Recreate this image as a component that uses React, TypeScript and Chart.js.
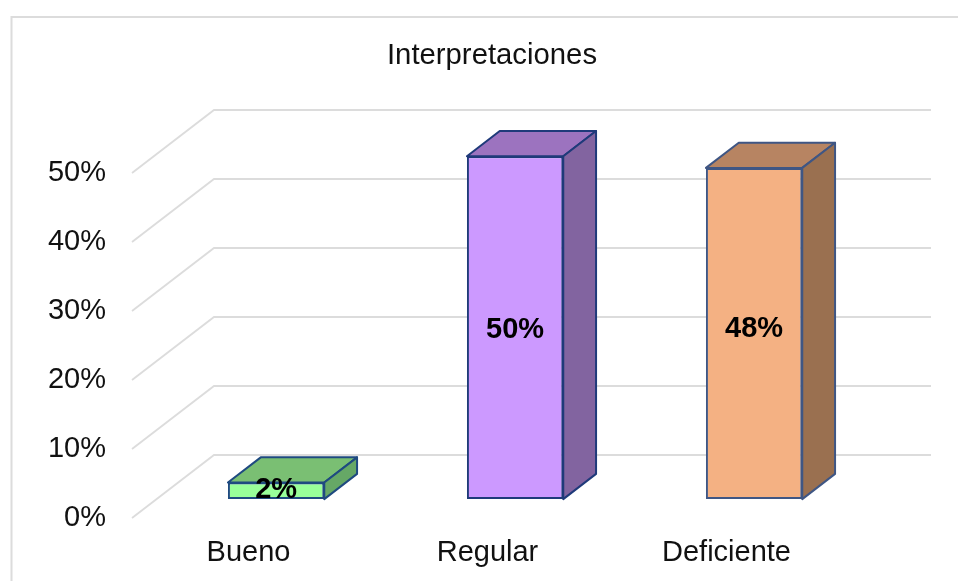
import React, { useEffect, useRef } from "react";
import { Chart, registerables } from "chart.js";

Chart.register(...registerables);

const titleText = "Interpretaciones";
const categories = ["Bueno", "Regular", "Deficiente"];
const values = [2.4, 49.7, 48];
const dataLabels = ["2%", "50%", "48%"];
const frontColors = ["#99ff99", "#cc99ff", "#f4b183"];
const topColors = ["#7abf73", "#9c73bf", "#b78462"];
const sideColors = ["#66a866", "#8264a0", "#9a7050"];
const borderColors = ["#1f4a80", "#1f3a7a", "#3f5684"];
const yTicks = [0, 10, 20, 30, 40, 50];

const FONT = '"Liberation Sans", Arial, sans-serif';
const DEPTH_X = 82;
const DEPTH_Y = 63;
const BAR_SHIFT = 0.3;
const BAR_DEPTH = 0.4;
const labelNudge = [-1, 2, -5];

const threeD = {
  id: "threeD",
  beforeDatasetsDraw(chart: any) {
    const { ctx, chartArea, scales } = chart;
    const y = scales.y;
    ctx.save();
    ctx.strokeStyle = "#dcdcdc";
    ctx.lineWidth = 1.8;
    yTicks.forEach((t) => {
      const py = y.getPixelForValue(t);
      ctx.beginPath();
      ctx.moveTo(chartArea.left, py);
      ctx.lineTo(chartArea.left + DEPTH_X, py - DEPTH_Y);
      ctx.lineTo(chartArea.right + DEPTH_X, py - DEPTH_Y);
      ctx.stroke();
    });
    ctx.restore();
  },
  beforeDatasetDraw(chart: any) {
    const { ctx } = chart;
    ctx.save();
    ctx.translate(DEPTH_X * BAR_SHIFT, -DEPTH_Y * BAR_SHIFT);
  },
  afterDatasetDraw(chart: any) {
    const { ctx } = chart;
    ctx.restore();
    const meta = chart.getDatasetMeta(0);
    const sx = DEPTH_X * BAR_SHIFT;
    const sy = -DEPTH_Y * BAR_SHIFT;
    const dx = DEPTH_X * BAR_DEPTH;
    const dy = DEPTH_Y * BAR_DEPTH;
    ctx.save();
    ctx.lineWidth = 2;
    ctx.lineJoin = "round";
    meta.data.forEach((bar: any, i: number) => {
      const l = bar.x - bar.width / 2 + sx;
      const r = bar.x + bar.width / 2 + sx;
      const t = bar.y + sy;
      const b = bar.base + sy;
      ctx.strokeStyle = borderColors[i];
      ctx.fillStyle = topColors[i];
      ctx.beginPath();
      ctx.moveTo(l, t);
      ctx.lineTo(l + dx, t - dy);
      ctx.lineTo(r + dx, t - dy);
      ctx.lineTo(r, t);
      ctx.closePath();
      ctx.fill();
      ctx.stroke();
      ctx.fillStyle = sideColors[i];
      ctx.beginPath();
      ctx.moveTo(r, t);
      ctx.lineTo(r + dx, t - dy);
      ctx.lineTo(r + dx, b - dy);
      ctx.lineTo(r, b);
      ctx.closePath();
      ctx.fill();
      ctx.stroke();
    });
    ctx.fillStyle = "#000000";
    ctx.font = `bold 29px ${FONT}`;
    ctx.textAlign = "center";
    ctx.textBaseline = "middle";
    meta.data.forEach((bar: any, i: number) => {
      ctx.fillText(dataLabels[i], bar.x + sx, (bar.y + bar.base) / 2 + sy + labelNudge[i]);
    });
    ctx.restore();
  },
};

const frame = {
  id: "frame",
  beforeDraw(chart: any) {
    const { ctx } = chart;
    ctx.save();
    ctx.fillStyle = "#ffffff";
    ctx.fillRect(0, 0, chart.width, chart.height);
    ctx.strokeStyle = "#dcdcdc";
    ctx.lineWidth = 2;
    ctx.beginPath();
    ctx.moveTo(11.5, 581);
    ctx.lineTo(11.5, 17);
    ctx.lineTo(958, 17);
    ctx.stroke();
    ctx.fillStyle = "#111111";
    ctx.font = `29.3px ${FONT}`;
    ctx.textAlign = "center";
    ctx.textBaseline = "middle";
    ctx.fillText(titleText, 492, 56);
    ctx.restore();
  },
};

export default function App() {
  const ref = useRef<HTMLCanvasElement>(null);
  useEffect(() => {
    const chart = new Chart(ref.current as HTMLCanvasElement, {
      type: "bar",
      data: {
        labels: categories,
        datasets: [
          {
            data: values,
            backgroundColor: frontColors,
            borderColor: borderColors,
            borderWidth: 2,
            borderSkipped: false,
            categoryPercentage: 1,
            barPercentage: 0.403,
          },
        ],
      },
      options: {
        animation: false,
        responsive: false,
        devicePixelRatio: 1,
        layout: { padding: { left: 0, right: 109, top: 173, bottom: 0 } },
        plugins: {
          legend: { display: false },
          tooltip: { enabled: false },
          title: { display: false },
        },
        scales: {
          x: {
            afterFit(axis: any) {
              axis.height = 63;
            },
            grid: { display: false, drawTicks: false },
            border: { display: false },
            ticks: {
              color: "#111111",
              font: { family: FONT, size: 29 },
              padding: 18,
              maxRotation: 0,
              labelOffset: -3,
            },
          },
          y: {
            min: 0,
            max: 50,
            afterFit(axis: any) {
              axis.width = 132;
            },
            grid: { display: false, drawTicks: false },
            border: { display: false },
            ticks: {
              stepSize: 10,
              color: "#111111",
              padding: 26,
              font: { family: FONT, size: 29 },
              callback: (v: any) => `${v}%`,
            },
          },
        },
      },
      plugins: [frame, threeD],
    } as any);
    return () => chart.destroy();
  }, []);
  return (
    <div style={{ position: "fixed", left: 0, top: 0, width: 958, height: 581 }}>
      <canvas ref={ref} width={958} height={581} style={{ display: "block" }} />
    </div>
  );
}
